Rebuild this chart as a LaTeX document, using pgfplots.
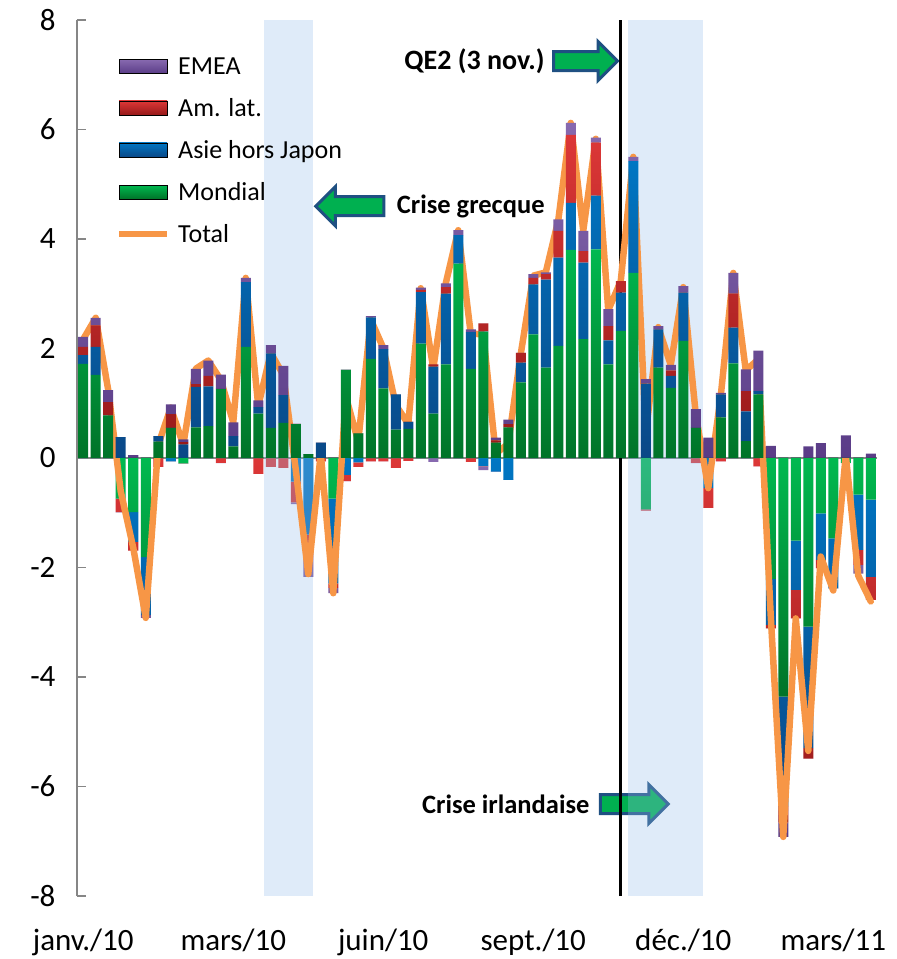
\documentclass[border=0pt]{standalone}
\usepackage{pgfplots}
\pgfplotsset{compat=1.18}
\usepackage{pgfplotstable}
\usepackage{fontspec}
\setmainfont{Carlito}
\usetikzlibrary{shapes.arrows}

\definecolor{cGt}{RGB}{0,185,80}
\definecolor{cGb}{RGB}{0,115,40}
\definecolor{cBt}{RGB}{0,118,195}
\definecolor{cBb}{RGB}{10,72,135}
\definecolor{cRt}{RGB}{220,55,55}
\definecolor{cRb}{RGB}{150,25,25}
\definecolor{cPt}{RGB}{135,105,175}
\definecolor{cPb}{RGB}{90,60,135}
\definecolor{cO}{RGB}{247,150,70}
\definecolor{axgray}{RGB}{134,134,134}
\definecolor{bandc}{RGB}{150,190,235}
\definecolor{arrowblue}{RGB}{31,80,130}
\definecolor{arrowgreen}{RGB}{0,176,80}

\pgfplotstableread{
idx G B R P T
0 1.72 0.16 0.15 0.18 2.17
1 1.52 0.51 0.39 0.14 2.56
2 0.78 0.00 0.24 0.22 1.24
3 -0.74 0.38 -0.25 0.00 -0.61
4 -0.99 -0.54 -0.16 0.05 -1.64
5 -1.81 -1.06 0.00 -0.05 -2.92
6 0.30 0.10 -0.16 0.00 0.24
7 0.55 -0.06 0.25 0.18 0.92
8 -0.10 0.25 0.04 0.05 0.24
9 0.56 0.74 0.05 0.28 1.63
10 0.58 0.73 0.19 0.28 1.78
11 1.26 0.00 -0.09 0.26 1.43
12 0.21 0.19 0.00 0.25 0.65
13 2.03 1.18 0.00 0.08 3.29
14 0.81 0.12 -0.29 0.12 0.95
15 0.55 1.36 -0.16 0.15 1.92
16 0.64 0.51 -0.18 0.53 1.52
17 0.62 -0.43 -0.38 -0.03 -0.21
18 0.07 -1.40 -0.30 -0.47 -2.12
19 0.00 0.28 -0.06 0.00 0.08
20 -0.74 -1.55 -0.08 -0.10 -2.47
21 1.61 -0.31 -0.11 0.00 1.13
22 0.45 -0.08 -0.08 0.00 0.30
23 1.81 0.76 -0.06 0.02 2.53
24 1.27 0.72 -0.06 0.07 2.01
25 0.52 0.64 -0.18 0.00 0.97
26 0.53 0.13 -0.05 0.00 0.62
27 2.09 0.94 0.04 0.04 3.10
28 0.81 0.86 0.04 -0.07 1.63
29 1.71 1.29 0.12 0.07 3.19
30 3.55 0.52 0.00 0.09 4.16
31 1.63 0.67 -0.07 0.05 2.27
32 2.31 -0.15 0.15 -0.07 2.26
33 0.28 -0.25 0.04 0.05 0.08
34 0.56 -0.40 0.06 0.08 0.26
35 1.38 0.36 0.18 0.00 1.90
36 2.26 0.91 0.12 0.07 3.33
37 1.65 1.61 0.10 0.03 3.39
38 2.05 1.61 0.49 0.21 4.34
39 3.80 0.86 1.24 0.22 6.12
40 2.17 1.40 0.21 0.37 4.15
41 3.81 0.98 0.97 0.09 5.83
42 1.71 0.44 0.26 0.31 2.70
43 2.32 0.70 0.21 0.00 3.23
44 3.38 2.04 0.00 0.08 5.50
45 -0.94 1.36 -0.02 0.08 0.44
46 1.65 0.70 0.00 0.06 2.39
47 1.28 0.22 0.10 0.10 1.70
48 2.14 0.88 0.00 0.12 3.12
49 0.55 0.00 -0.09 0.34 0.80
50 0.00 -0.55 -0.36 0.37 -0.55
51 0.74 0.42 -0.06 0.03 1.13
52 1.73 0.65 0.62 0.38 3.38
53 0.31 0.54 0.37 0.40 1.60
54 1.16 0.06 -0.15 0.74 1.80
55 -2.21 -0.84 -0.06 0.22 -2.89
56 -4.36 -2.00 -0.30 -0.26 -6.92
57 -1.51 -0.90 -0.52 0.00 -2.93
58 -3.08 -2.22 -0.19 0.21 -5.35
59 -1.01 -0.85 -0.15 0.27 -1.80
60 -1.47 -0.91 0.00 0.00 -2.42
61 -0.09 0.00 0.00 0.41 0.05
62 -0.67 -1.01 -0.27 -0.16 -2.15
63 -0.76 -1.41 -0.42 0.08 -2.62
}\data

\pgfplotsset{
  base/.style={
    scale only axis, width=800pt, height=876pt,
    at={(0pt,0pt)}, anchor=south west,
    xmin=-0.5, xmax=63.5, ymin=-8, ymax=8,
    ybar stacked, bar width=0.8,
  },
  sG/.style={draw=none, top color=cGt, bottom color=cGb},
  sB/.style={draw=none, top color=cBt, bottom color=cBb},
  sR/.style={draw=none, top color=cRt, bottom color=cRb},
  sP/.style={draw=none, top color=cPt, bottom color=cPb},
}

\begin{document}
\begin{tikzpicture}
% fixed picture frame
\path (-77pt,-63pt) rectangle (820pt,896pt);

% negative stack + visible axis
\begin{axis}[base,
  axis y line*=left, axis x line*=bottom,
  x axis line style={draw=none},
  y axis line style={axgray, line width=1.5pt},
  xtick={0,12,24,36,48,60},
  xticklabels={janv./10, mars/10, juin/10, sept./10, déc./10, mars/11},
  x tick style={draw=none},
  ytick={-8,-6,-4,-2,0,2,4,6,8},
  yticklabels={-8,-6,-4,-2,0,2,4,6,8},
  y tick style={axgray, line width=1.5pt},
  tick align=inside, major tick length=9pt,
  ticklabel style={font=\fontsize{31}{37}\selectfont},
  xticklabel style={yshift=-29pt},
  yticklabel style={xshift=-18pt},
  extra y ticks={0}, extra y tick labels={},
  extra y tick style={grid=major, major grid style={axgray, line width=2pt}, major tick length=0pt},
]
\addplot[sG] table[x=idx, y expr={min(\thisrow{G},-0.0005)}] {\data};
\addplot[sB] table[x=idx, y expr={min(\thisrow{B},-0.0005)}] {\data};
\addplot[sR] table[x=idx, y expr={min(\thisrow{R},-0.0005)}] {\data};
\addplot[sP] table[x=idx, y expr={min(\thisrow{P},-0.0005)}] {\data};
\end{axis}

% positive stack, line, annotations, legend
\begin{axis}[base, hide axis,
  legend style={at={(rel axis cs:0.045,0.962)}, anchor=north west, draw=none, fill=none,
    font=\fontsize{26}{31}\selectfont, row sep=18.5pt, column sep=6pt},
  legend cell align=left,
]
\addplot[sG, forget plot] table[x=idx, y expr={max(\thisrow{G},0.0005)}] {\data};
\addplot[sB, forget plot] table[x=idx, y expr={max(\thisrow{B},0.0005)}] {\data};
\addplot[sR, forget plot] table[x=idx, y expr={max(\thisrow{R},0.0005)}] {\data};
\addplot[sP, forget plot] table[x=idx, y expr={max(\thisrow{P},0.0005)}] {\data};
\addplot[sharp plot, stack plots=false, cO, line width=6.5pt, line join=round, line cap=round, forget plot, mark=none]
  table[x=idx, y=T] {\data};

\addlegendimage{legend image code/.code={\fill[top color=cPt, bottom color=cPb] (0pt,-7pt) rectangle (48pt,7pt);}}
\addlegendentry{EMEA}
\addlegendimage{legend image code/.code={\fill[top color=cRt, bottom color=cRb] (0pt,-7pt) rectangle (48pt,7pt);}}
\addlegendentry{Am. lat.}
\addlegendimage{legend image code/.code={\fill[top color=cBt, bottom color=cBb] (0pt,-7pt) rectangle (48pt,7pt);}}
\addlegendentry{Asie hors Japon}
\addlegendimage{legend image code/.code={\fill[top color=cGt, bottom color=cGb] (0pt,-7pt) rectangle (48pt,7pt);}}
\addlegendentry{Mondial}
\addlegendimage{legend image code/.code={\draw[cO, line width=6pt] (0pt,0pt) -- (48pt,0pt);}}
\addlegendentry{Total}

% event line and shaded periods
\draw[black, line width=3pt] (axis cs:42.95,-8) -- (axis cs:42.95,8);
\fill[bandc, fill opacity=0.3] (axis cs:14.44,-8) rectangle (axis cs:18.34,8);
\fill[bandc, fill opacity=0.3] (axis cs:43.58,-8) rectangle (axis cs:49.54,8);

% annotations
\node[font=\bfseries\fontsize{28}{33}\selectfont] at (axis cs:31.3,7.25) {QE2 (3 nov.)};
\node[single arrow, draw=arrowblue, line width=3pt, fill=arrowgreen, inner sep=8pt,
  minimum height=64pt, single arrow head extend=10pt] at (axis cs:39.8,7.25) {};
\node[font=\bfseries\fontsize{26.5}{32}\selectfont] at (axis cs:31.0,4.6) {Crise grecque};
\node[single arrow, draw=arrowblue, line width=3pt, fill=arrowgreen, inner sep=8pt,
  minimum height=68pt, single arrow head extend=10pt, shape border rotate=180] at (axis cs:21.7,4.6) {};
\node[font=\bfseries\fontsize{26.5}{32}\selectfont] at (axis cs:33.8,-6.32) {Crise irlandaise};
\node[single arrow, draw=arrowblue, line width=3pt, fill=arrowgreen, inner sep=8pt,
  minimum height=68pt, single arrow head extend=10pt] at (axis cs:43.7,-6.32) {};
\end{axis}
\end{tikzpicture}
\end{document}
